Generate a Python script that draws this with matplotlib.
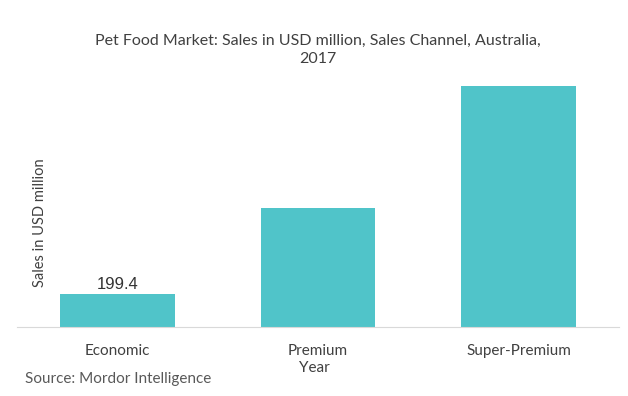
import matplotlib.pyplot as plt

categories = ["Economic", "Premium", "Super-Premium"]
sales = [199.4, 724.0, 1470.0]
shown_labels = ["199.4", "", ""]

plt.rcParams['font.family'] = ['Lato', 'DejaVu Sans']

W, H = 628, 396
fig = plt.figure(figsize=(6.28, 3.96), dpi=100)
ax = fig.add_axes([17 / W, 69 / H, 602 / W, 246 / H])

x = range(len(categories))
bars = ax.bar(x, sales, width=0.57, color="#50c4c9")
ax.bar_label(bars, labels=shown_labels, padding=2, fontsize=12,
             color="#333333", family="Liberation Sans")

ax.set_xlim(-0.5, 2.5)
ax.set_ylim(0, 1500)
ax.set_xticks(list(x))
ax.set_xticklabels(categories, fontsize=11, color="#404040")
ax.tick_params(axis="x", length=0, pad=12)
ax.set_yticks([])
for side in ["top", "right", "left"]:
    ax.spines[side].set_visible(False)
ax.spines["bottom"].set_color("#d9d9d9")

# positions given in pixels from the top-left corner
fig.text(0.5, 1 - 368 / H, "Year", ha="center", va="center", fontsize=11, color="#404040")
fig.text(40 / W, 1 - 223 / H, "Sales in USD million", rotation=90, ha="center",
         va="center", fontsize=10.5, color="#404040")
fig.text(318 / W, 1 - 50 / H,
         "Pet Food Market: Sales in USD million, Sales Channel, Australia,\n2017",
         ha="center", va="center", fontsize=11.5, color="#404040", linespacing=1.4)
fig.text(25 / W, 1 - 379 / H, "Source: Mordor Intelligence", ha="left", va="center",
         fontsize=11, color="#595959")

fig.savefig("out.png", dpi=100)
